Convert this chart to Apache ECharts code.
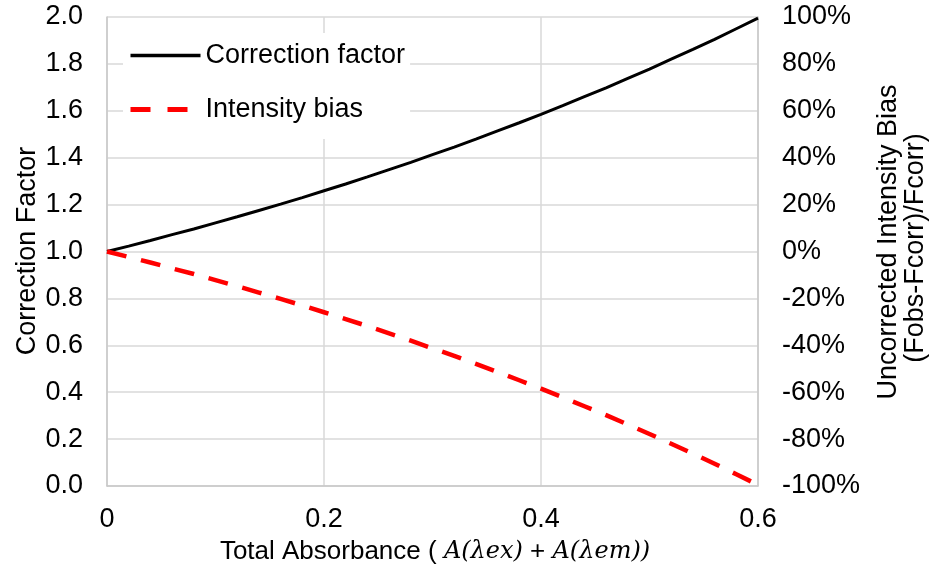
<!DOCTYPE html>
<html>
<head>
<meta charset="utf-8">
<script src="https://cdn.jsdelivr.net/npm/echarts@6/dist/echarts.min.js"></script>
<style>html,body{margin:0;padding:0;background:#fff}#c{width:930px;height:573px}</style>
</head>
<body>
<div id="c"></div>
<script>
const absorbance = [0,0.02,0.04,0.06,0.08,0.10,0.12,0.14,0.16,0.18,0.20,0.22,0.24,0.26,0.28,0.30,0.32,0.34,0.36,0.38,0.40,0.42,0.44,0.46,0.48,0.50,0.52,0.54,0.56,0.58,0.60];
const correctionFactor = [1.000,1.023,1.047,1.072,1.096,1.122,1.148,1.175,1.202,1.230,1.259,1.288,1.318,1.349,1.380,1.413,1.445,1.479,1.514,1.549,1.585,1.622,1.660,1.698,1.738,1.778,1.820,1.862,1.905,1.950,1.995];
const intensityBias = [0.000,-0.023,-0.047,-0.072,-0.096,-0.122,-0.148,-0.175,-0.202,-0.230,-0.259,-0.288,-0.318,-0.349,-0.380,-0.413,-0.445,-0.479,-0.514,-0.549,-0.585,-0.622,-0.660,-0.698,-0.738,-0.778,-0.820,-0.862,-0.905,-0.950,-0.995];
const seriesNames = ['Correction factor','Intensity bias'];

const FONT = '"Liberation Sans", Arial, sans-serif';
const FS = 27;
const chart = echarts.init(document.getElementById('c'));
const axisLine = {show:true, lineStyle:{color:'#c8c8c8', width:1.5}};
const split = {show:true, lineStyle:{color:'#d9d9d9', width:1.5}};
chart.setOption({
  animation:false,
  backgroundColor:'#fff',
  grid:{left:107, right:172, top:17, bottom:87},
  legend:{
    orient:'vertical', left:123, top:33, padding:[9,5,16,5],
    backgroundColor:'#fff', itemWidth:70, itemHeight:26, itemGap:27,
    itemStyle:{opacity:0},
    textStyle:{fontFamily:FONT, fontSize:FS, color:'#000'},
    data:[
      {name:seriesNames[0], lineStyle:{width:3.5, color:'#000'}},
      {name:seriesNames[1], lineStyle:{width:5, color:'#ff0000', type:[20,17]}}
    ]
  },
  xAxis:{
    type:'value', min:0, max:0.6, interval:0.2,
    axisLine:axisLine, axisTick:{show:false}, splitLine:split,
    axisLabel:{fontFamily:FONT, fontSize:FS, color:'#000', margin:20}
  },
  yAxis:[
    {type:'value', min:0, max:2, interval:0.2, position:'left',
     axisLine:axisLine, axisTick:{show:false}, splitLine:split,
     axisLabel:{fontFamily:FONT, fontSize:FS, color:'#000', margin:24, formatter:v=>v.toFixed(1)}},
    {type:'value', min:-1, max:1, interval:0.2, position:'right',
     axisLine:axisLine, axisTick:{show:false}, splitLine:{show:false},
     axisLabel:{fontFamily:FONT, fontSize:FS, color:'#000', margin:24, formatter:v=>Math.round(v*100)+'%'}}
  ],
  series:[
    {name:seriesNames[0], type:'line', yAxisIndex:0, symbol:'none',
     data:absorbance.map((x,i)=>[x,correctionFactor[i]]),
     lineStyle:{color:'#000', width:3}, itemStyle:{color:'#000'}},
    {name:seriesNames[1], type:'line', yAxisIndex:1, symbol:'none',
     data:absorbance.map((x,i)=>[x,intensityBias[i]]),
     lineStyle:{color:'#ff0000', width:4.5, type:[20,15]}, itemStyle:{color:'#ff0000'}}
  ],
  graphic:[
    {type:'text', x:28, y:251, rotation:Math.PI/2,
     style:{text:'Correction Factor', fontFamily:FONT, fontSize:FS, fill:'#000', align:'center', verticalAlign:'middle'}},
    {type:'text', x:889, y:242, rotation:Math.PI/2,
     style:{text:'Uncorrected Intensity Bias', fontFamily:FONT, fontSize:FS, fill:'#000', align:'center', verticalAlign:'middle'}},
    {type:'text', x:916, y:248, rotation:Math.PI/2,
     style:{text:'(Fobs-Fcorr)/Fcorr)', fontFamily:FONT, fontSize:FS, fill:'#000', align:'center', verticalAlign:'middle'}},
    {type:'text', x:435, y:552,
     style:{text:'{a|Total Absorbance ( }{m|A(λex)}{a| + }{m|A(λem))}', align:'center', verticalAlign:'middle', fill:'#000',
       rich:{a:{fontFamily:FONT, fontSize:26, fill:'#000'}, m:{fontFamily:'"DejaVu Serif", serif', fontStyle:'italic', fontSize:24, fill:'#000'}}}}
  ]
});
</script>
</body>
</html>
